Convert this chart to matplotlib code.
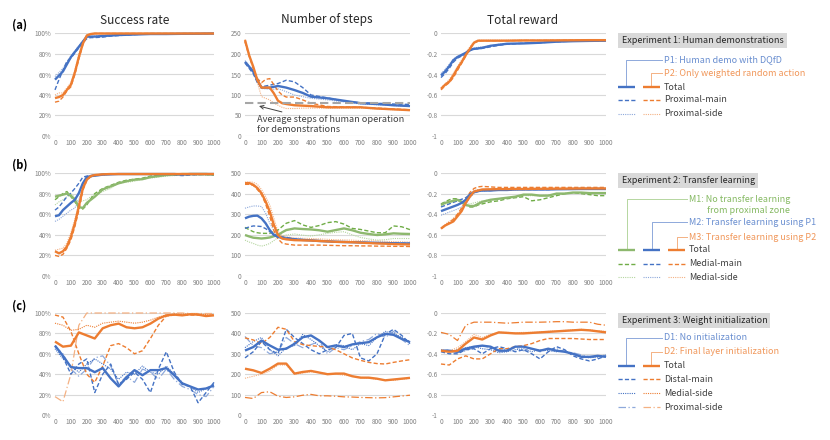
import numpy as np
import matplotlib
matplotlib.use('Agg')
import matplotlib.pyplot as plt
from matplotlib.ticker import FuncFormatter

plt.rcParams['font.family'] = ['Noto Sans CJK KR', 'DejaVu Sans']

# ---------------- data: row (a) experiment 1 ----------------
XA = [0, 25, 50, 75, 100, 125, 150, 175, 200, 225, 250, 300, 350, 400, 500, 600, 700, 800, 900, 1000]

p1_sr_total = [55, 59, 63, 70, 77, 82, 87, 92, 97, 97, 97, 97.5, 98, 98.5, 99, 99.5, 99.5, 99.7, 99.8, 100]
p1_sr_main = [45, 55, 64, 73, 76, 81, 86, 91, 95, 96, 96, 96.5, 97.5, 98, 99, 99.5, 99.5, 99.7, 99.8, 100]
p1_sr_side = [58, 62, 66, 72, 78, 83, 88, 93, 96, 97, 97.5, 98, 98.5, 99, 99.2, 99.5, 99.6, 99.7, 99.8, 100]
p2_sr_total = [37, 38, 40, 45, 50, 62, 77, 90, 98, 99.5, 100, 100, 100, 100, 100, 100, 100, 100, 100, 100]
p2_sr_main = [33, 34, 38, 44, 48, 60, 75, 89, 98, 99.5, 100, 100, 100, 100, 100, 100, 100, 100, 100, 100]
p2_sr_side = [40, 42, 42, 47, 52, 64, 80, 92, 99, 100, 100, 100, 100, 100, 100, 100, 100, 100, 100, 100]

p1_st_total = [181, 169, 157, 136, 118, 118, 118, 120, 122, 120, 118, 112, 105, 96, 92, 86, 80, 78, 75, 73]
p1_st_main = [178, 165, 152, 130, 120, 122, 124, 126, 128, 132, 136, 132, 118, 100, 93, 85, 81, 80, 78, 77]
p1_st_side = [184, 172, 160, 140, 116, 115, 114, 114, 115, 112, 108, 100, 96, 92, 88, 83, 78, 76, 74, 72]
p2_st_total = [234, 197, 169, 136, 118, 118, 118, 104, 86, 80, 78, 75, 74, 73, 70, 70, 70, 67, 65, 63]
p2_st_main = [230, 195, 165, 140, 130, 138, 140, 125, 110, 100, 95, 95, 88, 80, 72, 71, 70, 68, 66, 64]
p2_st_side = [236, 200, 165, 130, 96, 92, 88, 80, 75, 70, 67, 67, 68, 68, 68, 68, 68, 66, 64, 62]
human_avg_steps = 80

p1_rw_total = [-0.41, -0.37, -0.32, -0.26, -0.23, -0.21, -0.19, -0.16, -0.15, -0.145, -0.14, -0.12, -0.11, -0.10, -0.097, -0.09, -0.08, -0.075, -0.072, -0.07]
p1_rw_main = [-0.43, -0.39, -0.34, -0.28, -0.24, -0.22, -0.20, -0.17, -0.15, -0.15, -0.145, -0.13, -0.115, -0.105, -0.095, -0.09, -0.08, -0.075, -0.072, -0.07]
p1_rw_side = [-0.39, -0.35, -0.30, -0.25, -0.22, -0.20, -0.18, -0.155, -0.14, -0.135, -0.13, -0.12, -0.105, -0.10, -0.095, -0.088, -0.08, -0.075, -0.072, -0.07]
p2_rw_total = [-0.54, -0.50, -0.47, -0.41, -0.34, -0.28, -0.21, -0.15, -0.09, -0.07, -0.07, -0.07, -0.07, -0.07, -0.068, -0.068, -0.067, -0.066, -0.065, -0.065]
p2_rw_main = [-0.55, -0.51, -0.48, -0.43, -0.36, -0.29, -0.22, -0.15, -0.09, -0.075, -0.07, -0.07, -0.07, -0.07, -0.068, -0.068, -0.067, -0.066, -0.065, -0.065]
p2_rw_side = [-0.53, -0.49, -0.45, -0.39, -0.32, -0.26, -0.19, -0.13, -0.08, -0.065, -0.065, -0.065, -0.065, -0.065, -0.065, -0.065, -0.065, -0.064, -0.064, -0.064]

# ---------------- data: row (b) experiment 2 ----------------
XB = [0, 25, 50, 75, 100, 125, 150, 175, 200, 225, 250, 300, 350, 400, 450, 500, 550, 600, 650, 700, 750, 800, 850, 900, 950, 1000]

m1_sr_total = [77, 78, 79, 80, 78, 74, 67, 66, 71, 74, 77, 84, 87, 90, 92, 93.5, 94, 96, 97, 98, 98.5, 99, 99, 99, 99, 98.5]
m1_sr_main = [74, 77, 80, 82, 77, 72, 66, 65, 69, 75, 80, 85, 88, 91, 93, 94, 95, 97, 97.5, 98, 98.5, 99, 99, 98.5, 98.5, 98]
m1_sr_side = [69, 72, 74, 77, 80, 76, 72, 73, 74, 77, 79, 82, 85, 90, 91, 92, 94, 95, 96, 97, 97.5, 98, 98, 98, 98, 98]
m2_sr_total = [58, 59, 64, 67.5, 71, 74, 80.5, 90, 96, 97, 97.4, 98.4, 98.7, 99, 99, 99, 99, 99, 99, 99, 99, 98.5, 99, 99, 99, 99]
m2_sr_main = [64, 67, 72, 77, 80.5, 85, 90, 96, 97, 97.5, 98, 98.5, 99, 99, 99, 99, 99, 99, 98.5, 98.5, 98, 97.5, 98, 98.5, 99, 99]
m2_sr_side = [53, 55, 58, 61, 64, 66, 74, 87, 94, 96, 97, 98, 98.5, 99, 99, 99, 99, 99, 99, 99, 99, 99, 99, 99, 99, 99]
m3_sr_total = [24, 22, 24, 28.6, 38, 51, 67.5, 85, 93.5, 97, 98, 98.7, 99, 99, 99, 99, 99, 99, 99, 99, 99, 99, 99, 99, 99, 99]
m3_sr_main = [20, 19, 21, 27, 35, 48, 64, 83, 93, 96.5, 98, 98.7, 99, 99, 99, 99, 99, 99, 99, 99, 99, 99, 99, 99, 99, 99]
m3_sr_side = [25, 26, 27, 32, 42, 55, 71, 88, 95, 97.5, 98.5, 99, 99, 99, 99, 99, 99, 99, 99, 99, 99, 99, 99, 99, 99, 99]

m1_st_total = [199, 192, 186, 184, 182, 184, 187, 193, 199, 212, 223, 231, 228, 226, 222, 215, 223, 231, 222, 210, 204, 199, 202, 207, 205, 204]
m1_st_main = [236, 225, 215, 210, 207, 207, 207, 215, 223, 240, 256, 269, 248, 236, 245, 259, 264, 252, 231, 226, 218, 210, 210, 243, 239, 225]
m1_st_side = [174, 165, 158, 150, 145, 150, 158, 172, 187, 195, 199, 204, 198, 194, 200, 207, 212, 215, 200, 187, 180, 174, 176, 182, 182, 182]
m2_st_total = [280, 288, 292, 293, 280, 256, 223, 199, 190, 185, 182, 178, 175, 173, 170, 168, 166, 165, 164, 163, 162, 161, 160, 159, 158, 158]
m2_st_main = [231, 238, 243, 242, 240, 230, 215, 205, 194, 190, 187, 180, 176, 172, 170, 168, 166, 165, 164, 163, 162, 161, 160, 160, 159, 158]
m2_st_side = [329, 335, 340, 340, 337, 305, 256, 220, 199, 192, 188, 182, 178, 175, 172, 170, 168, 166, 165, 164, 163, 162, 162, 161, 160, 160]
m3_st_total = [451, 451, 443, 427, 402, 362, 313, 248, 199, 182, 178, 174, 173, 172, 170, 168, 166, 165, 164, 162, 160, 158, 157, 155, 154, 153]
m3_st_main = [445, 445, 440, 420, 395, 350, 290, 220, 180, 160, 155, 150, 150, 150, 150, 149, 148, 147, 147, 146, 146, 145, 145, 144, 144, 143]
m3_st_side = [455, 457, 455, 445, 420, 385, 345, 280, 215, 195, 190, 185, 183, 182, 180, 178, 176, 175, 174, 172, 171, 170, 168, 167, 166, 165]

m1_rw_total = [-0.31, -0.29, -0.28, -0.27, -0.26, -0.28, -0.31, -0.32, -0.32, -0.30, -0.28, -0.26, -0.25, -0.24, -0.23, -0.21, -0.21, -0.22, -0.22, -0.20, -0.20, -0.19, -0.19, -0.195, -0.195, -0.195]
m1_rw_main = [-0.30, -0.28, -0.26, -0.25, -0.25, -0.28, -0.31, -0.33, -0.33, -0.31, -0.30, -0.28, -0.27, -0.25, -0.24, -0.23, -0.27, -0.26, -0.24, -0.22, -0.20, -0.19, -0.20, -0.21, -0.22, -0.22]
m1_rw_side = [-0.32, -0.30, -0.29, -0.28, -0.27, -0.28, -0.30, -0.30, -0.29, -0.28, -0.27, -0.26, -0.25, -0.24, -0.23, -0.22, -0.22, -0.22, -0.21, -0.21, -0.20, -0.19, -0.19, -0.19, -0.19, -0.19]
m2_rw_total = [-0.37, -0.355, -0.34, -0.325, -0.31, -0.29, -0.26, -0.21, -0.185, -0.175, -0.17, -0.17, -0.165, -0.165, -0.16, -0.16, -0.16, -0.16, -0.16, -0.158, -0.157, -0.156, -0.155, -0.155, -0.155, -0.155]
m2_rw_main = [-0.33, -0.315, -0.30, -0.285, -0.27, -0.255, -0.24, -0.21, -0.19, -0.18, -0.17, -0.17, -0.165, -0.165, -0.16, -0.16, -0.16, -0.16, -0.16, -0.158, -0.157, -0.156, -0.155, -0.155, -0.155, -0.155]
m2_rw_side = [-0.41, -0.395, -0.38, -0.365, -0.35, -0.33, -0.30, -0.24, -0.20, -0.18, -0.175, -0.17, -0.168, -0.166, -0.163, -0.162, -0.161, -0.16, -0.16, -0.158, -0.157, -0.156, -0.155, -0.155, -0.155, -0.155]
m3_rw_total = [-0.54, -0.51, -0.49, -0.47, -0.42, -0.37, -0.29, -0.23, -0.18, -0.17, -0.16, -0.158, -0.156, -0.156, -0.155, -0.155, -0.154, -0.153, -0.153, -0.152, -0.152, -0.151, -0.15, -0.15, -0.15, -0.15]
m3_rw_main = [-0.54, -0.51, -0.48, -0.45, -0.40, -0.34, -0.26, -0.19, -0.15, -0.135, -0.13, -0.135, -0.14, -0.14, -0.14, -0.14, -0.14, -0.14, -0.14, -0.14, -0.14, -0.14, -0.14, -0.14, -0.14, -0.14]
m3_rw_side = [-0.53, -0.50, -0.47, -0.44, -0.40, -0.34, -0.27, -0.21, -0.17, -0.16, -0.16, -0.16, -0.16, -0.16, -0.16, -0.16, -0.16, -0.16, -0.16, -0.16, -0.16, -0.16, -0.16, -0.16, -0.16, -0.16]

# ---------------- data: row (c) experiment 3 ----------------
XC = [0, 50, 100, 150, 200, 250, 300, 350, 400, 450, 500, 550, 600, 650, 700, 750, 800, 850, 900, 950, 1000]

d1_sr_total = [68, 58, 47, 46, 46, 42, 46, 36, 28, 37, 44, 39, 44, 44, 46, 39, 31, 28, 25, 26, 29]
d1_sr_main = [68, 57, 40, 50, 55, 22, 40, 50, 30, 35, 42, 35, 22, 45, 62, 42, 30, 28, 12, 22, 32]
d1_sr_side = [65, 55, 48, 42, 50, 55, 50, 45, 35, 42, 40, 48, 42, 40, 48, 40, 32, 28, 22, 26, 30]
d1_sr_prox = [67, 60, 45, 38, 45, 56, 58, 48, 30, 38, 32, 45, 42, 35, 45, 35, 28, 25, 20, 18, 28]
d2_sr_total = [72, 67, 68, 81, 78, 75, 85, 88, 89.6, 86, 85, 86, 89.6, 94.5, 97.7, 98.4, 97.7, 98.7, 98.4, 97, 97.7]
d2_sr_main = [98, 96, 82, 60, 40, 32, 48, 68, 70, 66, 60, 63, 75, 88, 97, 98, 98, 98, 98, 97.5, 98]
d2_sr_side = [90, 88, 83, 84, 88, 86, 90, 91, 92, 91, 90, 91, 93, 96, 98, 99, 99, 99, 99, 98.5, 98]
d2_sr_prox = [18, 13, 40, 88, 100, 100, 100, 100, 100, 100, 100, 100, 100, 100, 100, 100, 100, 99.5, 99.5, 99.5, 99.5]

d1_st_total = [316, 333, 365, 341, 320, 325, 349, 381, 390, 365, 333, 341, 333, 346, 352, 357, 381, 398, 393, 373, 357]
d1_st_main = [280, 310, 360, 320, 300, 420, 380, 350, 320, 300, 320, 330, 390, 400, 280, 265, 300, 395, 420, 390, 350]
d1_st_side = [330, 360, 380, 320, 290, 330, 340, 395, 370, 340, 310, 345, 340, 320, 350, 340, 380, 410, 400, 380, 360]
d1_st_prox = [385, 340, 330, 300, 310, 380, 350, 330, 345, 360, 300, 330, 320, 340, 360, 370, 400, 380, 410, 370, 340]
d2_st_total = [227, 219, 206, 227, 252, 252, 203, 211, 216, 208, 200, 203, 203, 190, 183, 183, 178, 170, 174, 178, 182]
d2_st_main = [378, 368, 350, 380, 430, 420, 360, 345, 340, 336, 333, 320, 300, 280, 268, 258, 252, 250, 258, 265, 271]
d2_st_side = [180, 190, 200, 215, 245, 245, 200, 205, 212, 208, 203, 200, 195, 190, 185, 180, 175, 172, 170, 175, 180]
d2_st_prox = [86, 81, 110, 114, 92, 86, 89, 97, 101, 94, 94, 92, 89, 88, 86, 85, 84, 85, 89, 93, 97]

d1_rw_total = [-0.37, -0.37, -0.38, -0.35, -0.33, -0.32, -0.33, -0.37, -0.37, -0.33, -0.33, -0.35, -0.37, -0.35, -0.37, -0.38, -0.40, -0.43, -0.43, -0.42, -0.43]
d1_rw_main = [-0.38, -0.40, -0.40, -0.36, -0.35, -0.40, -0.35, -0.33, -0.35, -0.38, -0.36, -0.40, -0.45, -0.38, -0.33, -0.36, -0.42, -0.45, -0.47, -0.45, -0.42]
d1_rw_side = [-0.36, -0.38, -0.36, -0.34, -0.33, -0.35, -0.36, -0.39, -0.38, -0.36, -0.35, -0.38, -0.36, -0.37, -0.38, -0.37, -0.40, -0.42, -0.44, -0.43, -0.41]
d1_rw_prox = [-0.37, -0.36, -0.39, -0.37, -0.34, -0.32, -0.34, -0.36, -0.36, -0.34, -0.37, -0.35, -0.38, -0.36, -0.35, -0.38, -0.39, -0.41, -0.43, -0.44, -0.42]
d2_rw_total = [-0.37, -0.38, -0.37, -0.30, -0.24, -0.26, -0.22, -0.19, -0.195, -0.20, -0.20, -0.195, -0.19, -0.185, -0.18, -0.175, -0.17, -0.165, -0.17, -0.18, -0.19]
d2_rw_main = [-0.50, -0.51, -0.45, -0.42, -0.45, -0.45, -0.40, -0.35, -0.35, -0.33, -0.32, -0.30, -0.27, -0.25, -0.25, -0.25, -0.25, -0.255, -0.26, -0.26, -0.26]
d2_rw_side = [-0.36, -0.37, -0.34, -0.28, -0.21, -0.24, -0.21, -0.19, -0.19, -0.195, -0.19, -0.19, -0.185, -0.18, -0.175, -0.17, -0.165, -0.16, -0.165, -0.175, -0.18]
d2_rw_prox = [-0.19, -0.21, -0.27, -0.12, -0.09, -0.09, -0.09, -0.095, -0.10, -0.095, -0.09, -0.09, -0.09, -0.088, -0.085, -0.085, -0.09, -0.09, -0.09, -0.11, -0.12]

# ---------------- styling ----------------
BLUE, BLUE_L = '#4472C4', '#8EA9DB'
ORANGE, ORANGE_L = '#ED7D31', '#F4B183'
GREEN, GREEN_T, GREEN_L = '#70AD47', '#8DB86E', '#B5D6A0'
GRID = '#D9D9D9'
TICK = '#808080'
LEG_FS = 6.5

STYLE = {
    'total': dict(lw=1.7),
    'main': dict(lw=1.0, dashes=(3, 1.6)),
    'side': dict(lw=0.8, dashes=(1, 1)),
    'prox': dict(lw=0.9, dashes=(6, 2, 1, 2)),
}

W, H = 830, 440
fig = plt.figure(figsize=(W / 100, H / 100), dpi=100)

col_px = [(55, 214), (245, 410), (441, 606)]
row_px = [(33.5, 136), (173, 276), (313, 415)]


def make_ax(r, c):
    x0, x1 = col_px[c]
    y0, y1 = row_px[r]
    ax = fig.add_axes([x0 / W, 1 - y1 / H, (x1 - x0) / W, (y1 - y0) / H])
    ax.set_xlim(0, 1000)
    ax.set_xticks(range(0, 1001, 100))
    for s in ax.spines.values():
        s.set_visible(False)
    ax.grid(axis='y', color=GRID, lw=0.8)
    ax.set_axisbelow(True)
    ax.tick_params(length=0, labelsize=4.6, labelcolor=TICK, pad=2.5)
    if c == 0:
        ax.set_ylim(0, 100)
        ax.set_yticks(range(0, 101, 20))
        ax.yaxis.set_major_formatter(FuncFormatter(lambda v, p: f'{v:.0f}%'))
    elif c == 2:
        ax.set_ylim(-1, 0)
        ax.set_yticks(np.arange(-1, 0.01, 0.2))
        ax.yaxis.set_major_formatter(FuncFormatter(
            lambda v, p: '0' if abs(v) < 1e-9 else ('-1' if abs(v + 1) < 1e-9 else f'{v:.1f}')))
    return ax


def draw(ax, x, lines):
    for y, color, kind in lines:
        ax.plot(x, y, color=color, clip_on=False, solid_capstyle='butt', **STYLE[kind])


# row (a)
ax = make_ax(0, 0)
draw(ax, XA, [(p1_sr_side, BLUE_L, 'side'), (p2_sr_side, ORANGE_L, 'side'),
              (p1_sr_main, BLUE, 'main'), (p2_sr_main, ORANGE, 'main'),
              (p1_sr_total, BLUE, 'total'), (p2_sr_total, ORANGE, 'total')])
ax = make_ax(0, 1)
ax.set_ylim(0, 250)
ax.set_yticks(range(0, 251, 50))
draw(ax, XA, [(p1_st_side, BLUE_L, 'side'), (p2_st_side, ORANGE_L, 'side'),
              (p1_st_main, BLUE, 'main'), (p2_st_main, ORANGE, 'main'),
              (p1_st_total, BLUE, 'total'), (p2_st_total, ORANGE, 'total')])
ax.axhline(human_avg_steps, color='#A6A6A6', lw=1.5, dashes=(4, 2))
ax.annotate('Average steps of human operation\nfor demonstrations', xy=(85, 73), xytext=(70, 52),
            fontsize=6.6, color='#404040', ha='left', va='top', linespacing=1.15,
            arrowprops=dict(arrowstyle='->', color='#404040', lw=0.7, shrinkA=0, shrinkB=0))
ax = make_ax(0, 2)
draw(ax, XA, [(p1_rw_side, BLUE_L, 'side'), (p2_rw_side, ORANGE_L, 'side'),
              (p1_rw_main, BLUE, 'main'), (p2_rw_main, ORANGE, 'main'),
              (p1_rw_total, BLUE, 'total'), (p2_rw_total, ORANGE, 'total')])

# row (b)
ax = make_ax(1, 0)
draw(ax, XB, [(m1_sr_side, GREEN_L, 'side'), (m2_sr_side, BLUE_L, 'side'), (m3_sr_side, ORANGE_L, 'side'),
              (m1_sr_main, GREEN, 'main'), (m2_sr_main, BLUE, 'main'), (m3_sr_main, ORANGE, 'main'),
              (m1_sr_total, GREEN_T, 'total'), (m2_sr_total, BLUE, 'total'), (m3_sr_total, ORANGE, 'total')])
ax = make_ax(1, 1)
ax.set_ylim(0, 500)
ax.set_yticks(range(0, 501, 100))
draw(ax, XB, [(m1_st_side, GREEN_L, 'side'), (m2_st_side, BLUE_L, 'side'), (m3_st_side, ORANGE_L, 'side'),
              (m1_st_main, GREEN, 'main'), (m2_st_main, BLUE, 'main'), (m3_st_main, ORANGE, 'main'),
              (m1_st_total, GREEN_T, 'total'), (m2_st_total, BLUE, 'total'), (m3_st_total, ORANGE, 'total')])
ax = make_ax(1, 2)
draw(ax, XB, [(m1_rw_side, GREEN_L, 'side'), (m2_rw_side, BLUE_L, 'side'), (m3_rw_side, ORANGE_L, 'side'),
              (m1_rw_main, GREEN, 'main'), (m2_rw_main, BLUE, 'main'), (m3_rw_main, ORANGE, 'main'),
              (m1_rw_total, GREEN_T, 'total'), (m2_rw_total, BLUE, 'total'), (m3_rw_total, ORANGE, 'total')])

# row (c)
ax = make_ax(2, 0)
draw(ax, XC, [(d1_sr_prox, BLUE_L, 'prox'), (d2_sr_prox, ORANGE_L, 'prox'),
              (d1_sr_side, BLUE, 'side'), (d2_sr_side, ORANGE, 'side'),
              (d1_sr_main, BLUE, 'main'), (d2_sr_main, ORANGE, 'main'),
              (d1_sr_total, BLUE, 'total'), (d2_sr_total, ORANGE, 'total')])
ax = make_ax(2, 1)
ax.set_ylim(0, 500)
ax.set_yticks(range(0, 501, 100))
draw(ax, XC, [(d1_st_prox, BLUE_L, 'prox'), (d2_st_prox, ORANGE, 'prox'),
              (d1_st_side, BLUE, 'side'), (d2_st_side, ORANGE_L, 'side'),
              (d1_st_main, BLUE, 'main'), (d2_st_main, ORANGE, 'main'),
              (d1_st_total, BLUE, 'total'), (d2_st_total, ORANGE, 'total')])
ax = make_ax(2, 2)
draw(ax, XC, [(d1_rw_prox, BLUE_L, 'prox'), (d2_rw_prox, ORANGE, 'prox'),
              (d1_rw_side, BLUE, 'side'), (d2_rw_side, ORANGE_L, 'side'),
              (d1_rw_main, BLUE, 'main'), (d2_rw_main, ORANGE, 'main'),
              (d1_rw_total, BLUE, 'total'), (d2_rw_total, ORANGE, 'total')])

# titles and row labels
for cx, title in zip([135, 327, 523], ['Success rate', 'Number of steps', 'Total reward']):
    fig.text(cx / W, 1 - 20 / H, title, ha='center', va='center', fontsize=8.5, color='#262626')
for ry, lab in zip([25, 165, 306], ['(a)', '(b)', '(c)']):
    fig.text(12 / W, 1 - ry / H, lab, ha='left', va='center', fontsize=8, fontweight='bold', color='#000000')

# legend panels (drawn in pixel coordinates)
lg = fig.add_axes([0, 0, 1, 1])
lg.set_xlim(0, W)
lg.set_ylim(H, 0)
lg.axis('off')
TXT = '#404040'


def header(y, x1, text):
    lg.add_patch(plt.Rectangle((618, y - 7.5), x1 - 618, 15, color='#D9D9D9', lw=0))
    lg.text(622, y, text, fontsize=LEG_FS, color='#262626', va='center', ha='left')


def sample(x0, y, color, kind):
    lg.plot([x0, x0 + 17], [y, y], color=color, solid_capstyle='butt', **STYLE[kind])


def bracket(xv, ytop, ybot, xtext, color):
    lg.plot([xv, xv, xtext], [ybot - 2, ytop, ytop], color=color, lw=0.7)


# experiment 1
header(40.5, 787, 'Experiment 1: Human demonstrations')
bracket(626, 60, 87, 662, BLUE_L)
bracket(651, 73, 87, 662, ORANGE_L)
lg.text(664, 60, 'P1: Human demo with DQfD', fontsize=LEG_FS, color=BLUE, va='center', alpha=0.8)
lg.text(664, 73.5, 'P2: Only weighted random action', fontsize=LEG_FS, color=ORANGE, va='center', alpha=0.8)
for yy, kind, lab in [(87, 'total', 'Total'), (100, 'main', 'Proximal-main'), (114, 'side', 'Proximal-side')]:
    sample(618, yy, BLUE if kind != 'side' else BLUE_L, kind)
    sample(643, yy, ORANGE if kind != 'side' else ORANGE_L, kind)
    lg.text(664, yy, lab, fontsize=LEG_FS, color=TXT, va='center')

# experiment 2
header(180.5, 758, 'Experiment 2: Transfer learning')
bracket(627, 199, 250, 687, GREEN_L)
bracket(652, 222, 250, 687, BLUE_L)
bracket(677, 237, 250, 687, ORANGE_L)
lg.text(689, 199, 'M1: No transfer learning', fontsize=LEG_FS, color=GREEN, va='center', alpha=0.85)
lg.text(707, 210.5, 'from proximal zone', fontsize=LEG_FS, color=GREEN, va='center', alpha=0.85)
lg.text(689, 222.5, 'M2: Transfer learning using P1', fontsize=LEG_FS, color=BLUE, va='center', alpha=0.8)
lg.text(689, 237, 'M3: Transfer learning using P2', fontsize=LEG_FS, color=ORANGE, va='center', alpha=0.8)
for yy, kind, lab in [(250, 'total', 'Total'), (264, 'main', 'Medial-main'), (277, 'side', 'Medial-side')]:
    sample(618, yy, GREEN_T if kind == 'total' else (GREEN if kind == 'main' else GREEN_L), kind)
    sample(643, yy, BLUE if kind != 'side' else BLUE_L, kind)
    sample(668, yy, ORANGE if kind != 'side' else ORANGE_L, kind)
    lg.text(689, yy, lab, fontsize=LEG_FS, color=TXT, va='center')

# experiment 3
header(320.5, 770, 'Experiment 3: Weight initialization')
bracket(626, 338, 366, 662, BLUE_L)
bracket(651, 352, 366, 662, ORANGE_L)
lg.text(664, 338, 'D1: No initialization', fontsize=LEG_FS, color=BLUE, va='center', alpha=0.8)
lg.text(664, 352, 'D2: Final layer initialization', fontsize=LEG_FS, color=ORANGE, va='center', alpha=0.8)
for yy, kind, lab, cb, co in [(366, 'total', 'Total', BLUE, ORANGE),
                              (379, 'main', 'Distal-main', BLUE, ORANGE),
                              (393, 'side', 'Medial-side', BLUE, ORANGE),
                              (407, 'prox', 'Proximal-side', BLUE_L, ORANGE_L)]:
    sample(618, yy, cb, kind)
    sample(643, yy, co, kind)
    lg.text(664, yy, lab, fontsize=LEG_FS, color=TXT, va='center')

fig.savefig('out.png', dpi=100)
